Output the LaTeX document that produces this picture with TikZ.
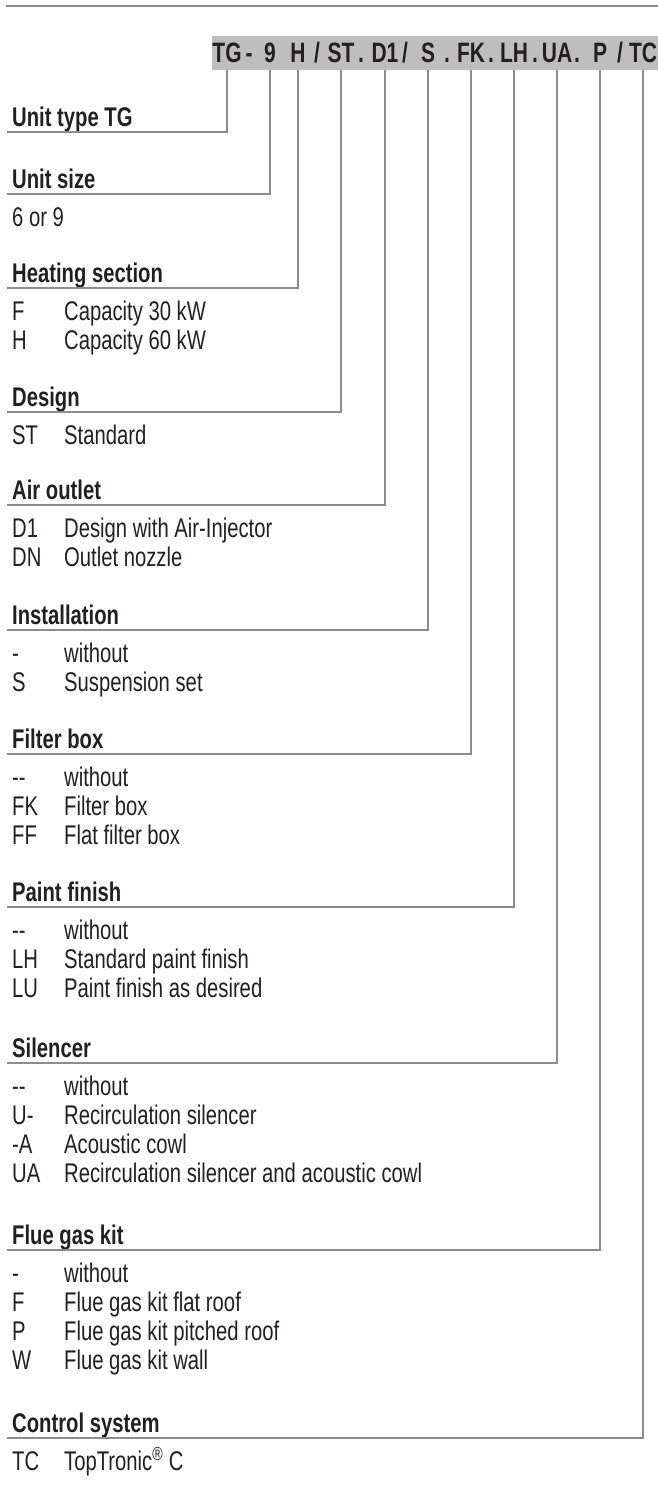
\documentclass[tikz,border=0pt]{standalone}
\usepackage{fontspec}
\setmainfont[FakeStretch=0.75]{Liberation Sans}
\usepackage{xcolor}
\definecolor{tgink}{HTML}{231F20}
\definecolor{tgband}{HTML}{BEBEBE}
\definecolor{tgline}{HTML}{8C8C8C}
\usepackage{tikz}

\begin{document}
\begin{tikzpicture}[x=1pt, y=-1pt,
  hdr/.style={anchor=south west, inner xsep=5pt, inner ysep=0pt, text depth=5.5pt,
    font=\fontsize{27}{32}\selectfont\bfseries, text=tgink},
  key/.style={anchor=base west, inner sep=0pt,
    font=\fontsize{27}{32}\selectfont, text=tgink},
  code/.style={anchor=base, inner sep=0pt,
    font=\fontsize{28}{32}\selectfont\bfseries, text=tgink},
  conn/.style={draw=tgline, line width=1.1pt}
]
\useasboundingbox (0,0) rectangle (658,1493);

% rule and type code band
\draw[tgline, line width=2.5pt] (6,6) -- (658,6);
\node[fill=tgband, anchor=north west, minimum width=446pt, minimum height=34pt,
  inner sep=0pt] (band) at (212,36) {};

\node[code] (ctype) at (227,63) {TG};
\node[code] (sep1) at (249,63) {-};
\node[code] (csize) at (270,63) {9};
\node[code] (cheat) at (298,63) {H};
\node[code] (sep2) at (317,63) {/};
\node[code] (cdesign) at (341,63) {ST};
\node[code] (sep3) at (361,63) {.};
\node[code] (coutlet) at (385,63) {D1};
\node[code] (sep4) at (405,63) {/};
\node[code] (cinstall) at (428,63) {S};
\node[code] (sep5) at (447,63) {.};
\node[code] (cfilter) at (471,63) {FK};
\node[code] (sep6) at (491,63) {.};
\node[code] (cpaint) at (514,63) {LH};
\node[code] (sep7) at (535,63) {.};
\node[code] (csilencer) at (557,63) {UA};
\node[code] (sep8) at (577,63) {.};
\node[code] (cflue) at (600,63) {P};
\node[code] (sep9) at (620,63) {/};
\node[code] (ccontrol) at (643,63) {TC};

% headings
\node[hdr] (unittype) at (7,132) {Unit type TG};
\node[hdr] (unitsize) at (7,194) {Unit size};
\node[hdr] (heating) at (7,288) {Heating section};
\node[hdr] (design) at (7,412) {Design};
\node[hdr] (outlet) at (7,505) {Air outlet};
\node[hdr] (install) at (7,630) {Installation};
\node[hdr] (filterbox) at (7,754) {Filter box};
\node[hdr] (paint) at (7,907) {Paint finish};
\node[hdr] (silencer) at (7,1063) {Silencer};
\node[hdr] (fluegas) at (7,1250) {Flue gas kit};
\node[hdr] (control) at (7,1438) {Control system};

% options
\node[key] (size1) at (12,226) {6 or 9};

\node[key] (heat1k) at (12,320) {F};
\node[key] (heat1t) at (64,320) {Capacity 30 kW};
\node[key] (heat2k) at (12,349) {H};
\node[key] (heat2t) at (64,349) {Capacity 60 kW};

\node[key] (design1k) at (12,444) {ST};
\node[key] (design1t) at (64,444) {Standard};

\node[key] (outlet1k) at (12,537) {D1};
\node[key] (outlet1t) at (64,537) {Design with Air-Injector};
\node[key] (outlet2k) at (12,566) {DN};
\node[key] (outlet2t) at (64,566) {Outlet nozzle};

\node[key] (install1k) at (12,662) {-};
\node[key] (install1t) at (64,662) {without};
\node[key] (install2k) at (12,691) {S};
\node[key] (install2t) at (64,691) {Suspension set};

\node[key] (filter1k) at (12,786) {{-}{-}};
\node[key] (filter1t) at (64,786) {without};
\node[key] (filter2k) at (12,815) {FK};
\node[key] (filter2t) at (64,815) {Filter box};
\node[key] (filter3k) at (12,844) {FF};
\node[key] (filter3t) at (64,844) {Flat filter box};

\node[key] (paint1k) at (12,939) {{-}{-}};
\node[key] (paint1t) at (64,939) {without};
\node[key] (paint2k) at (12,968) {LH};
\node[key] (paint2t) at (64,968) {Standard paint finish};
\node[key] (paint3k) at (12,997) {LU};
\node[key] (paint3t) at (64,997) {Paint finish as desired};

\node[key] (sil1k) at (12,1095) {{-}{-}};
\node[key] (sil1t) at (64,1095) {without};
\node[key] (sil2k) at (12,1124) {U-};
\node[key] (sil2t) at (64,1124) {Recirculation silencer};
\node[key] (sil3k) at (12,1153) {-A};
\node[key] (sil3t) at (64,1153) {Acoustic cowl};
\node[key] (sil4k) at (12,1182) {UA};
\node[key] (sil4t) at (64,1182) {Recirculation silencer and acoustic cowl};

\node[key] (flue1k) at (12,1282) {-};
\node[key] (flue1t) at (64,1282) {without};
\node[key] (flue2k) at (12,1311) {F};
\node[key] (flue2t) at (64,1311) {Flue gas kit flat roof};
\node[key] (flue3k) at (12,1340) {P};
\node[key] (flue3t) at (64,1340) {Flue gas kit pitched roof};
\node[key] (flue4k) at (12,1369) {W};
\node[key] (flue4t) at (64,1369) {Flue gas kit wall};

\node[key] (control1k) at (12,1470) {TC};
\node[key] (control1t) at (64,1470) {TopTronic\textsuperscript{\textregistered} C};

% leader lines from each heading up to its code
\draw[conn] (unittype.south west) -| (ctype |- band.south);
\draw[conn] (unitsize.south west) -| (csize |- band.south);
\draw[conn] (heating.south west) -| (cheat |- band.south);
\draw[conn] (design.south west) -| (cdesign |- band.south);
\draw[conn] (outlet.south west) -| (coutlet |- band.south);
\draw[conn] (install.south west) -| (cinstall |- band.south);
\draw[conn] (filterbox.south west) -| (cfilter |- band.south);
\draw[conn] (paint.south west) -| (cpaint |- band.south);
\draw[conn] (silencer.south west) -| (csilencer |- band.south);
\draw[conn] (fluegas.south west) -| (cflue |- band.south);
\draw[conn] (control.south west) -| (ccontrol |- band.south);
\end{tikzpicture}
\end{document}
